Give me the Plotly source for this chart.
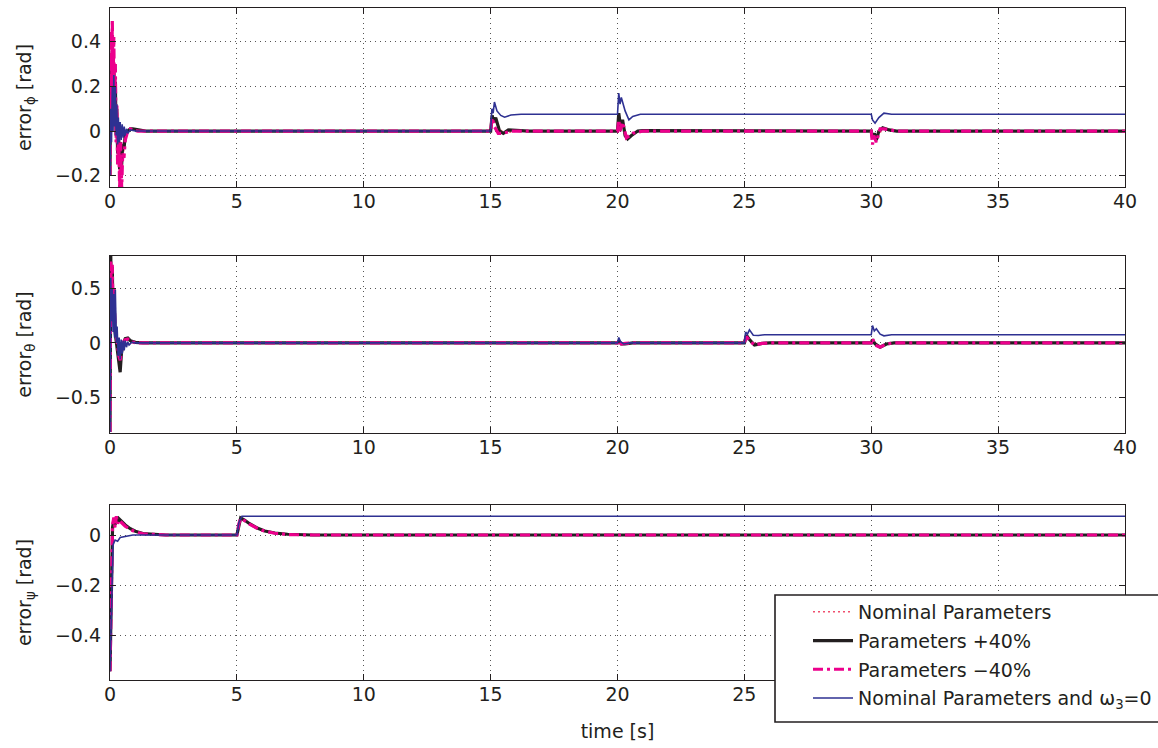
import plotly.graph_objects as go

# ---------------- DATA ----------------
series_names = ["Nominal Parameters", "Parameters +40%", "Parameters \u221240%",
                "Nominal Parameters and \u03c9<sub>3</sub>=0"]

x_ticks = [0, 5, 10, 15, 20, 25, 30, 35, 40]
x_tick_labels = ["0", "5", "10", "15", "20", "25", "30", "35", "40"]
# bottom axis: labels 30..40 are hidden under the legend box in the reference
x_tick_labels_bottom = ["0", "5", "10", "15", "20", "25", "", "", ""]
phi_ticks = [-0.2, 0, 0.2, 0.4]
theta_ticks = [-0.5, 0, 0.5]
psi_ticks = [-0.4, -0.2, 0]

# ---- error_phi ----
phi_nom_t = [0, 0.03, 0.06, 0.09, 0.12, 0.15, 0.2, 0.25, 0.3, 0.38, 0.46, 0.55, 0.7, 0.9, 1.3,
             15.0, 15.06, 15.2, 15.5, 16.0, 20.0, 20.06, 20.2, 20.4, 20.8, 30.0, 30.08, 30.2, 30.45, 31.0, 40.0]
phi_nom_v = [-0.2, 0.35, 0.12, 0.4, 0.18, 0.33, 0.1, 0.1, -0.1, -0.2, -0.18, -0.08, 0.0, 0.01, 0.0,
             0.0, 0.065, 0.04, -0.01, 0.0, 0.0, 0.06, 0.03, -0.03, 0.0, 0.0, -0.04, -0.04, 0.012, 0.0, 0.0]

phi_p40_t = [0, 0.03, 0.06, 0.09, 0.12, 0.15, 0.18, 0.21, 0.24, 0.27, 0.3, 0.34, 0.38, 0.42, 0.46, 0.5,
             0.55, 0.6, 0.7, 0.8, 0.9, 1.1, 1.4,
             15.0, 15.06, 15.12, 15.2, 15.35, 15.5, 15.7, 16.0, 16.5,
             20.0, 20.05, 20.12, 20.2, 20.3, 20.4, 20.55, 20.8, 21.0,
             30.0, 30.05, 30.12, 30.2, 30.3, 30.45, 30.7, 31.0, 40.0]
phi_p40_v = [-0.2, 0.3, 0.12, 0.36, 0.15, 0.3, 0.05, 0.22, -0.02, 0.1, -0.1, -0.02, -0.17, -0.05, -0.15, -0.06,
             -0.08, -0.02, 0.0, 0.01, 0.01, 0.005, 0.0,
             0.0, 0.07, 0.04, 0.06, 0.0, -0.01, 0.005, 0.003, 0.0,
             0.0, 0.08, 0.02, 0.05, -0.02, -0.035, -0.02, 0.0, 0.002,
             0.0, -0.03, -0.01, -0.04, 0.0, 0.015, 0.005, 0.0, 0.0]

phi_m40_t = [0, 0.03, 0.06, 0.09, 0.12, 0.15, 0.18, 0.21, 0.24, 0.27, 0.3, 0.34, 0.38, 0.42, 0.46, 0.5,
             0.55, 0.6, 0.7, 0.8, 0.9, 1.1,
             15.0, 15.06, 15.15, 15.3, 15.5, 15.8,
             20.0, 20.05, 20.1, 20.2, 20.35, 20.6, 21.0,
             30.0, 30.05, 30.1, 30.2, 30.35, 30.5, 31.0, 40.0]
phi_m40_v = [-0.2, 0.45, 0.1, 0.5, 0.2, 0.42, 0.05, 0.3, -0.05, 0.12, -0.15, 0.0, -0.26, -0.05, -0.26, -0.1,
             -0.12, -0.04, 0.0, 0.01, 0.005, 0.0,
             0.0, 0.06, 0.02, -0.01, -0.01, 0.0,
             0.0, 0.05, 0.0, 0.04, -0.03, -0.01, 0.0,
             0.0, -0.06, -0.02, -0.05, 0.01, 0.01, 0.0, 0.0]

phi_w3_t = [0, 0.03, 0.06, 0.09, 0.12, 0.15, 0.18, 0.21, 0.24, 0.27, 0.3, 0.33, 0.36, 0.4, 0.44, 0.48,
            0.52, 0.56, 0.6, 0.65, 0.7, 0.8, 1.0,
            15.0, 15.05, 15.1, 15.15, 15.25, 15.4, 15.55, 15.8, 16.2,
            20.0, 20.05, 20.1, 20.15, 20.3, 20.45, 20.6, 20.9,
            30.0, 30.05, 30.15, 30.3, 30.5, 30.8, 40.0]
phi_w3_v = [-0.2, 0.1, -0.05, 0.2, 0.0, 0.25, 0.02, 0.2, -0.02, 0.12, -0.06, 0.06, -0.05, 0.04, -0.04, 0.03,
            -0.03, 0.02, -0.02, 0.01, -0.01, 0.005, 0.0,
            0.0, 0.1, 0.08, 0.13, 0.09, 0.07, 0.062, 0.072, 0.075,
            0.075, 0.17, 0.12, 0.15, 0.09, 0.05, 0.065, 0.075,
            0.075, 0.05, 0.035, 0.06, 0.08, 0.075, 0.075]

# ---- error_theta ----
th_nom_t = [0, 0.03, 0.06, 0.09, 0.12, 0.2, 0.3, 0.4, 0.5, 0.6, 0.8, 1.0, 1.3,
            20.0, 20.05, 20.2, 20.6, 25.0, 25.08, 25.3, 25.6, 26.0, 30.0, 30.05, 30.3, 30.7, 31.0, 40.0]
th_nom_v = [-0.82, 0.78, 0.3, 0.65, 0.2, 0.1, -0.1, -0.2, -0.02, 0.04, 0.02, 0.005, 0.0,
            0.0, 0.015, -0.01, 0.0, 0.0, 0.07, 0.0, -0.01, 0.0, 0.0, 0.03, -0.035, -0.005, 0.0, 0.0]

th_p40_t = [0, 0.03, 0.06, 0.09, 0.12, 0.15, 0.2, 0.25, 0.3, 0.35, 0.4, 0.45, 0.5, 0.6, 0.7, 0.8, 1.0, 1.3,
            20.0, 20.05, 20.15, 20.3, 20.6,
            25.0, 25.08, 25.2, 25.4, 25.7, 26.0,
            30.0, 30.05, 30.15, 30.35, 30.6, 30.9, 40.0]
th_p40_v = [-0.82, 0.8, 0.3, 0.7, 0.2, 0.5, 0.1, 0.0, -0.1, -0.2, -0.27, -0.1, -0.02, 0.04, 0.045, 0.02, 0.005, 0.0,
            0.0, 0.015, -0.01, -0.01, 0.0,
            0.0, 0.07, 0.03, -0.02, -0.005, 0.0,
            0.0, 0.03, -0.01, -0.04, -0.01, 0.0, 0.0]

th_m40_t = [0, 0.03, 0.06, 0.09, 0.12, 0.15, 0.2, 0.25, 0.3, 0.35, 0.4, 0.45, 0.5, 0.6, 0.7, 0.8, 1.0, 1.3,
            20.0, 20.05, 20.15, 20.3, 20.6,
            25.0, 25.08, 25.2, 25.4, 25.7, 26.0,
            30.0, 30.05, 30.15, 30.35, 30.6, 30.9, 40.0]
th_m40_v = [-0.82, 0.75, 0.35, 0.72, 0.25, 0.5, 0.15, 0.05, -0.05, -0.12, -0.16, -0.06, 0.0, 0.03, 0.035, 0.015, 0.0, 0.0,
            0.0, 0.02, -0.01, -0.005, 0.0,
            0.0, 0.06, 0.02, -0.02, -0.005, 0.0,
            0.0, 0.04, -0.02, -0.04, -0.01, 0.0, 0.0]

th_w3_t = [0, 0.03, 0.06, 0.09, 0.12, 0.15, 0.18, 0.21, 0.25, 0.28, 0.32, 0.36, 0.4, 0.44, 0.48, 0.52,
           0.56, 0.6, 0.65, 0.7, 0.75, 0.85, 1.0,
           20.0, 20.05, 20.12, 20.25, 20.5,
           25.0, 25.05, 25.12, 25.2, 25.35, 25.55, 25.8,
           30.0, 30.05, 30.12, 30.2, 30.35, 30.5, 30.8, 40.0]
th_w3_v = [-0.82, 0.6, 0.2, 0.5, 0.1, 0.45, 0.05, 0.49, 0.0, 0.15, -0.12, 0.05, -0.15, 0.03, -0.1, 0.02,
           -0.07, 0.02, -0.04, 0.01, -0.02, 0.005, 0.0,
           0.0, 0.05, 0.01, -0.01, 0.0,
           0.0, 0.1, 0.08, 0.12, 0.07, 0.068, 0.075,
           0.075, 0.16, 0.11, 0.13, 0.08, 0.065, 0.075, 0.075]

# ---- error_psi ----
psi_nom_t = [0, 0.06, 0.1, 0.2, 0.3, 0.5, 0.8, 1.2, 2.0, 5.0, 5.1, 5.15, 5.5, 6.0, 6.6, 7.5, 40.0]
psi_nom_v = [-0.545, -0.2, 0.03, 0.06, 0.06, 0.05, 0.025, 0.008, 0.0, 0.0, 0.05, 0.068, 0.045, 0.02, 0.007, 0.001, 0.0]

psi_p40_t = [0, 0.06, 0.1, 0.15, 0.2, 0.25, 0.3, 0.35, 0.45, 0.6, 0.8, 1.0, 1.3, 1.7, 2.2,
             5.0, 5.08, 5.15, 5.3, 5.5, 5.8, 6.1, 6.5, 7.0, 8.0, 40.0]
psi_p40_v = [-0.545, -0.2, 0.03, 0.06, 0.04, 0.07, 0.05, 0.065, 0.055, 0.04, 0.025, 0.015, 0.006, 0.002, 0.0,
             0.0, 0.04, 0.068, 0.06, 0.045, 0.028, 0.016, 0.008, 0.003, 0.0, 0.0]

psi_m40_t = [0, 0.06, 0.1, 0.15, 0.2, 0.25, 0.3, 0.35, 0.45, 0.6, 0.8, 1.0, 1.3, 1.7, 2.2,
             5.0, 5.08, 5.15, 5.3, 5.5, 5.8, 6.1, 6.5, 7.0, 8.0, 40.0]
psi_m40_v = [-0.545, -0.15, 0.04, 0.07, 0.03, 0.075, 0.045, 0.06, 0.05, 0.035, 0.022, 0.013, 0.005, 0.002, 0.0,
             0.0, 0.045, 0.066, 0.058, 0.043, 0.027, 0.015, 0.007, 0.002, 0.0, 0.0]

psi_w3_t = [0, 0.06, 0.12, 0.2, 0.3, 0.4, 0.6, 0.9, 5.0, 5.08, 5.2, 20.0, 20.05, 20.2, 40.0]
psi_w3_v = [-0.545, -0.25, -0.04, -0.02, -0.025, -0.01, -0.005, 0.0, 0.0, 0.05, 0.075, 0.075, 0.078, 0.075, 0.075]

# ---------------- STYLE ----------------
FONT = "DejaVu Sans, Arial, sans-serif"
FS = 19
INK = "#231f20"
styles = [
    dict(color="#f0506e", width=1.5, dash="2px,3px"),
    dict(color=INK, width=3.2, dash="solid"),
    dict(color="#ec008c", width=3.2, dash="10px,4px,3px,4px"),
    dict(color="#2e3192", width=1.6, dash="solid"),
]

panels = [
    ([(phi_nom_t, phi_nom_v), (phi_p40_t, phi_p40_v), (phi_m40_t, phi_m40_v), (phi_w3_t, phi_w3_v)],
     "error<sub>\u03d5</sub> [rad]", phi_ticks, [-0.25, 0.55]),
    ([(th_nom_t, th_nom_v), (th_p40_t, th_p40_v), (th_m40_t, th_m40_v), (th_w3_t, th_w3_v)],
     "error<sub>\u03b8</sub> [rad]", theta_ticks, [-0.83, 0.8]),
    ([(psi_nom_t, psi_nom_v), (psi_p40_t, psi_p40_v), (psi_m40_t, psi_m40_v), (psi_w3_t, psi_w3_v)],
     "error<sub>\u03c8</sub> [rad]", psi_ticks, [-0.58, 0.12]),
]

# pixel geometry: plot area x 110..1125, y 8..680 (canvas 1158x748)
W, H = 1158, 748
ML, MR, MT, MB = 110, 33, 8, 68
area_w = W - ML - MR
area_h = H - MT - MB
panel_px = [(8, 187), (256, 433), (505, 680)]
domains = [[(680 - b) / area_h, (680 - t) / area_h] for (t, b) in panel_px]


def px_x(p):
    return (p - ML) / area_w


def px_y(p):
    return (680 - p) / area_h


fig = go.Figure()
for i, (data, title, yt, yr) in enumerate(panels):
    ax = "" if i == 0 else str(i + 1)
    for j, (t, v) in enumerate(data):
        fig.add_trace(go.Scatter(
            x=t, y=v, mode="lines", line=styles[j], name=series_names[j],
            legendgroup=str(j), showlegend=(i == 2),
            xaxis="x" + ax, yaxis="y" + ax, hoverinfo="skip"))

axis_common = dict(
    showline=True, linecolor=INK, linewidth=1.3, mirror="ticks",
    ticks="inside", ticklen=6, tickcolor=INK, tickwidth=1,
    showgrid=True, gridcolor="#555555", griddash="1px,4px", gridwidth=1,
    zeroline=False, tickfont=dict(family=FONT, size=FS, color=INK),
)

layout = dict(
    width=W, height=H, paper_bgcolor="white", plot_bgcolor="white",
    margin=dict(l=ML, r=MR, t=MT, b=MB, autoexpand=False),
    font=dict(family=FONT, size=FS, color=INK),
    showlegend=True,
    legend=dict(
        x=px_x(808), y=px_y(593), xanchor="left", yanchor="top",
        bgcolor="rgba(0,0,0,0)", borderwidth=0,
        font=dict(family=FONT, size=FS, color=INK),
        itemwidth=40, tracegroupgap=1,
    ),
    shapes=[dict(type="rect", xref="paper", yref="paper", layer="above",
                 x0=px_x(775), x1=px_x(1170), y0=px_y(722), y1=px_y(595),
                 fillcolor="white", line=dict(color=INK, width=1.6))],
)
for i, (data, title, yt, yr) in enumerate(panels):
    ax = "" if i == 0 else str(i + 1)
    layout["xaxis" + ax] = dict(
        axis_common, domain=[0, 1], range=[0, 40], tickvals=x_ticks,
        ticktext=x_tick_labels_bottom if i == 2 else x_tick_labels,
        anchor="y" + ax, ticklabelstandoff=-3,
        title=dict(text="time [s]", font=dict(family=FONT, size=FS), standoff=20) if i == 2 else None,
    )
    layout["yaxis" + ax] = dict(
        axis_common, domain=domains[i], range=yr, tickvals=yt, anchor="x" + ax,
        ticklabelstandoff=4,
        title=dict(text=title, font=dict(family=FONT, size=FS), standoff=18),
    )
fig.update_layout(**layout)

fig.write_html("out.html", config={"displayModeBar": False},
               post_script="document.body.style.margin='0';")
